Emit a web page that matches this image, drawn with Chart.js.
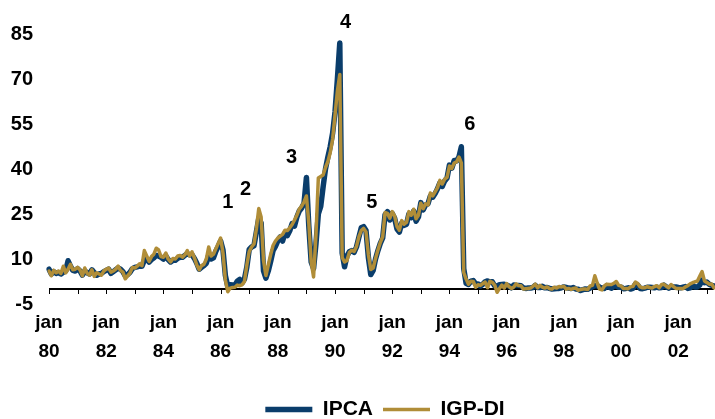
<!DOCTYPE html>
<html>
<head>
<meta charset="utf-8">
<script src="https://cdn.jsdelivr.net/npm/chart.js@4/dist/chart.umd.min.js"></script>
<style>
  body { margin: 0; background: #fff; }
</style>
</head>
<body>
<canvas id="myChart" width="715" height="419"></canvas>
<script>
// monthly inflation (%), jan 1980 .. apr 2003
const monthNames = ['jan', 'fev', 'mar', 'abr', 'mai', 'jun', 'jul', 'ago', 'set', 'out', 'nov', 'dez'];
const firstYear = 1980;
const monthCount = 280;

const ipca = [
    6.6, 5.0, 5.8, 5.2, 5.5, 5.0, 5.6, 6.0, 9.4, 7.6, 6.2, 6.0,
    6.8, 6.0, 4.6, 6.0, 5.4, 5.0, 6.4, 5.4, 4.6, 5.0, 5.2, 5.8,
    6.2, 6.6, 5.2, 5.8, 6.4, 7.0, 6.6, 5.8, 4.4, 4.8, 5.6, 6.8,
    7.2, 7.4, 7.6, 7.6, 9.6, 10.0, 9.0, 9.8, 10.4, 11.2, 11.0, 10.6,
    10.0, 11.0, 9.8, 9.0, 9.6, 9.6, 10.2, 10.6, 10.6, 11.2, 11.8, 11.4,
    11.4, 10.2, 8.6, 6.6, 7.2, 7.8, 8.6, 11.2, 10.0, 10.4, 12.6, 14.2,
    16.0, 13.0, 4.5, 0.8, 1.4, 1.3, 1.2, 2.6, 3.2, 2.0, 3.3, 7.3,
    13.2, 14.0, 14.4, 19.0, 23.5, 22.0, 6.0, 3.6, 6.0, 9.2, 12.8, 14.2,
    16.0, 17.4, 16.0, 18.6, 17.8, 19.4, 21.8, 21.0, 24.0, 26.0, 27.0, 28.6,
    37.2, 21.0, 9.0, 6.8, 15.0, 25.0, 27.5, 34.0, 40.0, 44.0, 47.5, 52.0,
    59.0, 70.0, 82.0, 12.0, 7.4, 11.0, 12.4, 12.8, 12.2, 14.0, 17.2, 20.4,
    20.8, 19.5, 10.5, 4.8, 6.2, 10.0, 12.8, 15.2, 17.0, 24.8, 25.8, 23.0,
    25.2, 23.6, 20.0, 19.0, 22.0, 21.2, 21.6, 25.0, 23.8, 26.0, 22.6, 24.0,
    28.8, 26.4, 28.0, 28.4, 31.0, 30.6, 31.8, 33.4, 35.4, 34.2, 36.0, 37.0,
    41.3, 40.3, 42.8, 42.7, 44.0, 47.4, 6.8, 1.9, 1.5, 2.6, 2.8, 1.7,
    1.7, 1.0, 1.6, 2.4, 2.7, 2.3, 2.4, 1.0, 1.0, 1.4, 1.5, 1.6,
    1.3, 1.0, 0.4, 1.3, 1.2, 1.2, 1.1, 0.4, 0.2, 0.3, 0.3, 0.5,
    1.2, 0.5, 0.5, 0.9, 0.4, 0.5, 0.2, 0.0, 0.1, 0.2, 0.2, 0.4,
    0.7, 0.5, 0.3, 0.2, 0.5, 0.0, -0.1, -0.5, -0.2, 0.0, -0.1, 0.3,
    0.7, 1.1, 1.1, 0.6, 0.3, 0.2, 1.1, 0.6, 0.3, 1.2, 1.0, 0.6,
    0.6, 0.1, 0.2, 0.4, 0.0, 0.2, 1.6, 1.3, 0.2, 0.1, 0.3, 0.6,
    0.6, 0.5, 0.4, 0.6, 0.4, 0.5, 1.3, 0.7, 0.3, 0.8, 0.7, 0.7,
    0.5, 0.4, 0.6, 0.8, 0.2, 0.4, 1.2, 0.7, 0.7, 1.3, 3.0, 2.1,
    2.3, 1.6, 1.2, 1.0
];

const igpdi = [
    6.0, 4.4, 6.2, 5.4, 6.0, 5.2, 7.6, 5.4, 6.6, 8.2, 6.4, 6.6,
    7.2, 6.4, 4.4, 7.0, 5.2, 4.6, 6.4, 4.2, 5.4, 5.0, 4.6, 6.0,
    6.6, 7.0, 5.6, 6.0, 6.6, 7.6, 6.2, 5.6, 3.4, 4.4, 5.4, 7.2,
    7.0, 7.6, 8.4, 7.8, 12.8, 11.0, 9.2, 10.8, 11.6, 13.6, 13.0, 10.8,
    10.6, 12.0, 10.0, 9.0, 10.2, 10.0, 11.0, 11.2, 10.6, 11.4, 12.8, 11.0,
    12.4, 10.4, 8.0, 6.4, 7.8, 8.2, 10.0, 14.0, 11.0, 11.6, 13.4, 15.2,
    17.0, 12.0, 3.0, -0.9, 0.3, 0.5, 0.6, 1.3, 1.1, 1.4, 2.5, 8.0,
    12.5, 14.0, 15.0, 20.0, 26.8, 24.0, 9.5, 4.5, 8.0, 11.5, 14.5, 16.0,
    17.0, 17.6, 18.2, 19.6, 19.5, 20.4, 21.5, 23.0, 24.6, 26.6, 27.6, 29.0,
    31.0, 22.0, 9.0, 4.0, 18.0, 37.0, 37.5, 38.0, 40.5, 42.5, 45.5, 50.0,
    58.0, 66.0, 71.5, 10.5, 9.0, 9.5, 12.2, 12.9, 12.5, 14.2, 17.4, 19.5,
    20.2, 19.0, 11.5, 6.5, 7.0, 10.2, 13.0, 15.5, 17.4, 25.5, 25.2, 23.6,
    25.8, 24.4, 20.8, 19.6, 22.8, 21.6, 22.2, 25.8, 24.6, 26.6, 23.4, 24.6,
    28.6, 26.8, 28.4, 28.0, 32.0, 31.0, 32.4, 33.8, 36.2, 35.0, 36.6, 37.2,
    41.0, 40.2, 42.0, 42.4, 44.0, 42.0, 5.5, 3.3, 1.6, 2.6, 2.5, 0.6,
    1.4, 1.2, 1.8, 2.3, 0.4, 2.6, 2.2, 1.3, -1.1, 0.2, 1.3, 0.3,
    1.8, 0.8, 0.2, 0.7, 1.7, 1.2, 1.1, 0.0, 0.1, 0.2, 0.3, 0.9,
    1.6, 0.4, 1.2, 0.6, 0.3, 0.7, 0.1, 0.0, 0.6, 0.3, 0.8, 0.7,
    0.9, 0.0, 0.2, -0.1, 0.2, 0.3, -0.4, -0.2, 0.0, 0.0, -0.2, 1.0,
    1.2, 4.4, 2.0, 0.0, -0.3, 1.0, 1.6, 1.5, 1.5, 1.9, 2.5, 1.2,
    1.0, 0.2, 0.2, 0.1, 0.7, 0.9, 2.3, 1.8, 0.7, 0.4, 0.4, 0.8,
    0.5, 0.3, 0.8, 1.1, 0.4, 1.5, 1.6, 0.9, 0.4, 1.5, 0.8, 0.2,
    0.2, 0.2, 0.1, 0.7, 1.1, 1.7, 2.1, 2.4, 2.6, 4.2, 5.8, 2.7,
    2.2, 1.6, 1.7, 0.4
];

// numbered episodes written on the chart (month index, value)
const noteTexts = ['1', '2', '3', '4', '5', '6'];
const noteMonths = [75, 82.5, 101.8, 124.4, 135.4, 176.5];
const noteValues = [29, 33.3, 43.7, 89, 29, 54.7];

const months = [];
for (let i = 0; i < monthCount; i++) {
    const yy = String((firstYear + Math.floor(i / 12)) % 100).padStart(2, '0');
    months.push(monthNames[i % 12] + ' ' + yy);
}

const bold = { family: 'Arial, "Liberation Sans", sans-serif', weight: 'bold' };

const notesPlugin = {
    id: 'notes',
    beforeDatasetsDraw(chart) {
        // axis line at zero with a tick every january
        const ctx = chart.ctx;
        const x = chart.scales.x;
        const y0 = Math.round(chart.scales.y.getPixelForValue(0));
        ctx.save();
        ctx.strokeStyle = '#000000';
        ctx.lineWidth = 2;
        ctx.beginPath();
        ctx.moveTo(x.left, y0);
        ctx.lineTo(x.right, y0);
        ctx.stroke();
        ctx.lineWidth = 1;
        ctx.beginPath();
        for (let i = 0; i < monthCount; i += 12) {
            const px = Math.round(x.getPixelForValue(i)) + 0.5;
            ctx.moveTo(px, y0);
            ctx.lineTo(px, y0 + 5);
        }
        ctx.stroke();
        ctx.restore();
    },
    afterDatasetsDraw(chart) {
        const ctx = chart.ctx;
        const x = chart.scales.x;
        const y = chart.scales.y;
        ctx.save();
        ctx.font = 'bold 20px Arial, "Liberation Sans", sans-serif';
        ctx.fillStyle = '#000';
        ctx.textAlign = 'center';
        ctx.textBaseline = 'middle';
        noteTexts.forEach((t, i) => {
            ctx.fillText(t, x.getPixelForValue(noteMonths[i]), y.getPixelForValue(noteValues[i]));
        });
        ctx.restore();
    },
    afterLayout(chart) {
        // legend sits a little right of centre in the original
        chart.legend.left += 28;
        chart.legend.right += 28;
    }
};

let myChart = document.getElementById('myChart').getContext('2d');

let inflationChart = new Chart(myChart, {
    type: 'line',
    data: {
        labels: months,
        datasets: [{
            label: 'IPCA',
            data: ipca,
            borderColor: '#0a3d6b',
            backgroundColor: '#0a3d6b',
            borderWidth: 5.5,
            borderJoinStyle: 'round',
            borderCapStyle: 'round',
            pointRadius: 0,
            tension: 0,
            order: 1
        }, {
            label: 'IGP-DI',
            data: igpdi,
            borderColor: '#b08d38',
            backgroundColor: '#b08d38',
            borderWidth: 3.5,
            borderJoinStyle: 'round',
            borderCapStyle: 'round',
            pointRadius: 0,
            tension: 0,
            order: 0
        }]
    },
    options: {
        responsive: false,
        animation: false,
        layout: {
            padding: { top: 34, right: 1, bottom: -11, left: 0 }
        },
        plugins: {
            legend: {
                position: 'bottom',
                labels: {
                    usePointStyle: true,
                    pointStyle: 'line',
                    pointStyleWidth: 47,
                    padding: 10,
                    color: '#000',
                    font: { ...bold, size: 21 },
                    sort: (a, b) => a.datasetIndex - b.datasetIndex
                }
            },
            tooltip: { enabled: false }
        },
        scales: {
            x: {
                type: 'category',
                grid: { display: false, drawTicks: false },
                border: { display: false },
                ticks: {
                    autoSkip: false,
                    maxRotation: 0,
                    minRotation: 0,
                    padding: 4,
                    color: '#000',
                    font: { ...bold, size: 19, lineHeight: 1.53 },
                    callback: function (value) {
                        return this.getLabelForValue(value).split(' ');
                    }
                },
                afterBuildTicks: (scale) => {
                    scale.ticks = scale.ticks.filter(t => t.value % 24 === 0);
                },
                afterFit: (scale) => {
                    scale.height = 85;
                }
            },
            y: {
                type: 'linear',
                min: -5,
                max: 85,
                grid: { display: false, drawTicks: false },
                border: { display: false },
                ticks: {
                    stepSize: 15,
                    padding: 16,
                    color: '#000',
                    font: { ...bold, size: 20 }
                },
                afterFit: (scale) => {
                    scale.width = 49;
                }
            }
        }
    },
    plugins: [notesPlugin]
});
</script>
</body>
</html>
